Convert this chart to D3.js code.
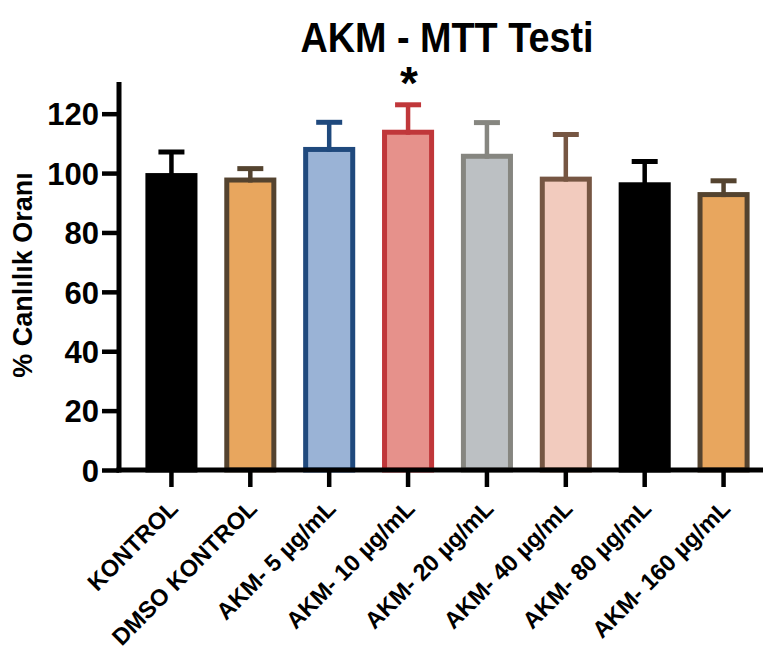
<!DOCTYPE html>
<html>
<head>
<meta charset="utf-8">
<script src="https://cdn.jsdelivr.net/npm/d3@7"></script>
<style>
  body { margin: 0; background: #fff; }
  text { font-family: "Liberation Sans", Arial, sans-serif; font-weight: bold; }
</style>
</head>
<body>
<script>
var groups = ["KONTROL", "DMSO KONTROL", "AKM- 5 µg/mL", "AKM- 10 µg/mL", "AKM- 20 µg/mL", "AKM- 40 µg/mL", "AKM- 80 µg/mL", "AKM- 160 µg/mL"];
var means = [100, 98.5, 108.8, 114.6, 106.5, 98.8, 96.9, 93.6];
var sds = [7.1, 3.0, 8.3, 8.4, 10.5, 14.2, 7.0, 3.8];
var signif = ["", "", "", "*", "", "", "", ""];
var yTicks = [0, 20, 40, 60, 80, 100, 120];

var fills = ["#000000", "#e8a65e", "#9ab3d6", "#e6918b", "#bcc0c3", "#f2cbbe", "#000000", "#e8a65e"];
var strokes = ["#000000", "#54432f", "#1f497d", "#c0373a", "#868680", "#765643", "#000000", "#54432f"];

var width = 770, height = 650;
var axisX = 119;

var svg = d3.select("body")
    .append("svg")
    .attr("width", width)
    .attr("height", height);

var x = d3.scaleBand().domain(groups).range([132, 763]).paddingInner(0.34).paddingOuter(0.17);
var y = d3.scaleLinear().domain([0, 130]).range([470, 84]);

var data = groups.map(function (g, i) {
    return { name: g, mean: means[i], sd: sds[i], fill: fills[i], stroke: strokes[i], sig: signif[i] };
});

var sw = 5;

// bars (outline drawn inside the bar)
svg.selectAll("rect.bar")
    .data(data)
    .enter().append("rect")
    .attr("class", "bar")
    .attr("x", function (d) { return x(d.name) + sw / 2; })
    .attr("y", function (d) { return y(d.mean) + sw / 2; })
    .attr("width", x.bandwidth() - sw)
    .attr("height", function (d) { return y(0) - y(d.mean) - sw / 2; })
    .attr("fill", function (d) { return d.fill; })
    .attr("stroke", function (d) { return d.stroke; })
    .attr("stroke-width", sw);

// error bars, upper half only
var err = svg.selectAll("g.err")
    .data(data)
    .enter().append("g")
    .attr("class", "err");

err.append("line")
    .attr("x1", function (d) { return x(d.name) + x.bandwidth() / 2; })
    .attr("x2", function (d) { return x(d.name) + x.bandwidth() / 2; })
    .attr("y1", function (d) { return y(d.mean) + sw; })
    .attr("y2", function (d) { return y(d.mean + d.sd); })
    .attr("stroke", function (d) { return d.stroke; })
    .attr("stroke-width", 4.5);

err.append("line")
    .attr("x1", function (d) { return x(d.name) + x.bandwidth() / 2 - 13; })
    .attr("x2", function (d) { return x(d.name) + x.bandwidth() / 2 + 13; })
    .attr("y1", function (d) { return y(d.mean + d.sd); })
    .attr("y2", function (d) { return y(d.mean + d.sd); })
    .attr("stroke", function (d) { return d.stroke; })
    .attr("stroke-width", 5);

// significance marks
svg.selectAll("text.sig")
    .data(data.filter(function (d) { return d.sig; }))
    .enter().append("text")
    .attr("class", "sig")
    .attr("x", function (d) { return x(d.name) + x.bandwidth() / 2 + 1; })
    .attr("y", function (d) { return y(d.mean + d.sd) - 6; })
    .attr("text-anchor", "middle")
    .style("font-size", "46px")
    .text(function (d) { return d.sig; });

// y axis
var yAxis = svg.append("g")
    .attr("transform", "translate(" + axisX + ",0)")
    .call(d3.axisLeft(y).tickValues(yTicks).tickSize(17).tickSizeOuter(0).tickPadding(3));
yAxis.select(".domain").attr("stroke-width", 5).attr("d", "M0," + (y(0) + 2.5) + "V" + (y(130) - 2));
yAxis.selectAll(".tick line").attr("stroke-width", 4.5);
yAxis.selectAll(".tick text").style("font-size", "31px").attr("fill", "#000").attr("dy", "0.36em");

// x axis
var xAxis = svg.append("g")
    .attr("transform", "translate(0," + y(0) + ")")
    .call(d3.axisBottom(x).tickSize(17).tickSizeOuter(0));
xAxis.select(".domain").attr("stroke-width", 5).attr("d", "M" + (axisX - 2.5) + ",0H" + x.range()[1]);
xAxis.selectAll(".tick line").attr("stroke-width", 4.5);
xAxis.selectAll(".tick text")
    .style("font-size", "23.5px")
    .attr("fill", "#000")
    .attr("text-anchor", "end")
    .attr("y", 0).attr("dy", 0)
    .attr("transform", "translate(8,40) rotate(-45)");

// title
svg.append("text")
    .attr("x", 447)
    .attr("y", 52)
    .attr("text-anchor", "middle")
    .attr("textLength", 293)
    .attr("lengthAdjust", "spacingAndGlyphs")
    .style("font-size", "42px")
    .text("AKM - MTT Testi");

// y axis title
svg.append("text")
    .attr("transform", "translate(32,275) rotate(-90)")
    .attr("text-anchor", "middle")
    .style("font-size", "27px")
    .text("% Canlılık Oranı");
</script>
</body>
</html>
